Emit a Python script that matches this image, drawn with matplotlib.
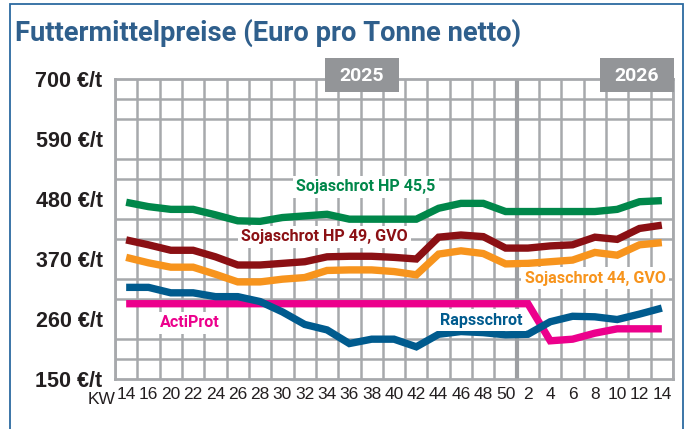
import numpy as np
import matplotlib
matplotlib.use("Agg")
from matplotlib import pyplot as plt
from matplotlib.patches import Rectangle

# Kalenderwochen (KW), April 2025 bis April 2026
weeks = ["14", "16", "20", "22", "24", "26", "28", "30", "32", "34", "36", "38",
         "40", "42", "44", "46", "48", "50", "2", "4", "6", "8", "10", "12", "14"]

# Preise in Euro pro Tonne
soja_455 = [474, 466, 461, 461, 451, 440, 439, 446, 449, 452, 443, 443, 443,
            443, 463, 472, 472, 457, 457, 457, 457, 457, 461, 475, 477]
soja_49 = [405, 396, 386, 386, 374, 359, 359, 362, 365, 374, 375, 375, 373,
           370, 410, 414, 411, 390, 390, 394, 396, 410, 406, 426, 432]
soja_44 = [373, 363, 355, 355, 342, 328, 328, 333, 336, 349, 350, 350, 347,
           341, 379, 385, 380, 361, 362, 365, 368, 382, 377, 396, 400]
raps = [318, 318, 308, 308, 301, 301, 292, 273, 250, 240, 215, 223, 223,
        209, 232, 237, 235, 231, 232, 255, 265, 264, 259, 269, 280]
actiprot = [288, 288, 288, 288, 288, 288, 288, 288, 288, 288, 288, 288, 288,
            288, 288, 288, 288, 288, 288, 220, 223, 234, 242, 242, 242]

y_labels = ["150 €/t", "260 €/t", "370 €/t", "480 €/t", "590 €/t", "700 €/t"]
y_values = [150, 260, 370, 480, 590, 700]

W, H = 687, 429
fig = plt.figure(figsize=(W / 100, H / 100), dpi=100)

def px(x0, y0, x1, y1):
    # pixel box (top-left origin) -> figure fraction
    return [x0 / W, 1 - y1 / H, (x1 - x0) / W, (y1 - y0) / H]

ax = fig.add_axes(px(115, 79, 673, 379))
x = np.arange(len(weeks))

grid_col = "#a7a9ac"
ax.set_xlim(-0.5, len(weeks) - 0.5)
ax.set_ylim(150, 700)
ax.set_xticks(np.arange(-0.5, len(weeks)), minor=True)
ax.set_yticks(np.linspace(150, 700, 16), minor=True)
ax.grid(which="minor", color=grid_col, lw=1.8)
ax.set_axisbelow(True)
ax.axvline(17.5, color="#9d9fa2", lw=3, zorder=1)
for s in ax.spines.values():
    s.set_color(grid_col)
    s.set_linewidth(2)

ax.set_xticks(x)
ax.set_xticklabels(weeks, fontsize=12.5, color="#231f20", family="Liberation Sans")
ax.set_yticks(y_values)
ax.set_yticklabels(y_labels, fontsize=15.5, fontweight="bold", color="#231f20",
                   family="Liberation Sans")
ax.tick_params(which="both", length=0)
ax.tick_params(axis="y", pad=9)
ax.tick_params(axis="x", pad=6)

lw = 5.3
series = [
    (soja_455, "#00874a"),
    (soja_49, "#8b1014"),
    (soja_44, "#f7941d"),
    (actiprot, "#ec008c"),
    (raps, "#005b8e"),
]
for vals, col in series:
    ax.plot(x, vals, color=col, lw=lw, solid_joinstyle="miter", solid_capstyle="butt", zorder=3)

lab_font = dict(family="Roboto", fontweight="bold",
                fontsize=11.6, ha="center", va="center", zorder=4,
                bbox=dict(fc="white", ec="none", pad=2.5))
ax.text(10.74, 502, "Sojaschrot HP 45,5", color="#00874a", **lab_font)
ax.text(8.88, 411, "Sojaschrot HP 49, GVO", color="#8b1014", **lab_font)
ax.text(21.02, 335, "Sojaschrot 44, GVO", color="#f7941d", **lab_font)
ax.text(2.83, 253, "ActiProt", color="#ec008c", **lab_font)
ax.text(15.91, 258, "Rapsschrot", color="#005b8e", **lab_font)

# Jahreskästen
for (x0, x1), year in [((325, 399), "2025"), ((600, 674), "2026")]:
    fig.add_artist(Rectangle((x0 / W, 1 - 92 / H), (x1 - x0) / W, 34 / H,
                             transform=fig.transFigure, fc="#939598", ec="none", zorder=5))
    fig.text((x0 + x1) / 2 / W, 1 - 76 / H, year, color="white", fontsize=14,
             fontweight="bold", ha="center", va="center", zorder=6, family="Roboto")

fig.text(102 / W, 1 - 399 / H, "KW", fontsize=12.5, color="#231f20",
         ha="center", va="center", family="Liberation Sans")

fig.text(15 / W, 1 - 41 / H, "Futtermittelpreise (Euro pro Tonne netto)",
         color="#2f5f8c", fontsize=19.7, fontweight="bold", ha="left", va="baseline",
         family="Roboto")

# blauer Rahmen
fig.add_artist(Rectangle((9.5 / W, -0.1), (683 - 9.5) / W, 1.1 - 4.5 / H,
                         transform=fig.transFigure, fill=False, ec="#2c6aa0", lw=1.3,
                         clip_on=False))

fig.savefig("out.png", dpi=100)
